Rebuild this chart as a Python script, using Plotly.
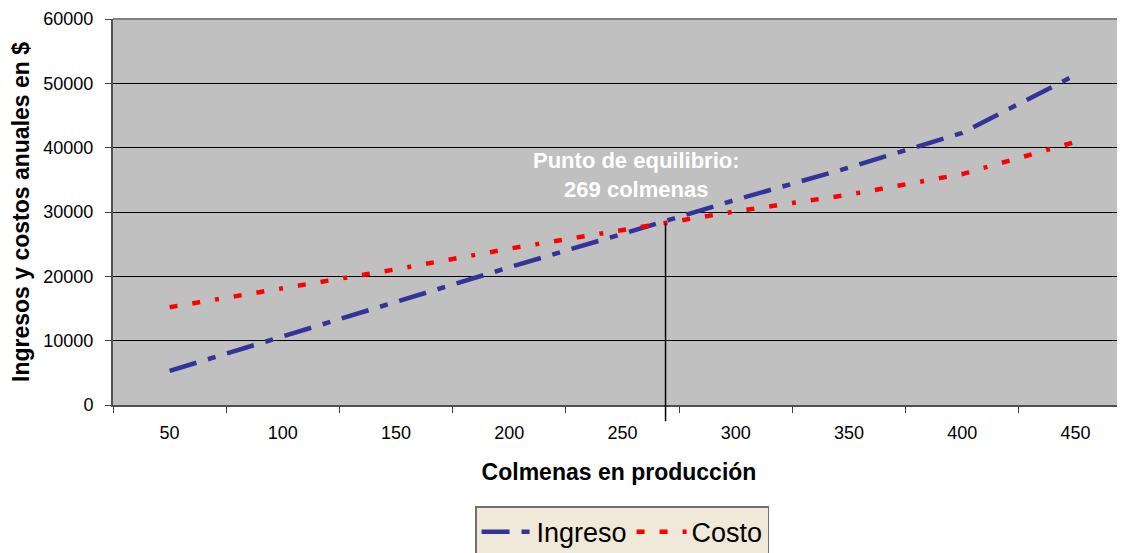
import plotly.graph_objects as go

colmenas = [50, 100, 150, 200, 250, 300, 350, 400, 450]
ingreso = [5300, 10700, 16100, 21400, 26600, 31900, 36900, 42300, 51300]
costo = [15200, 18200, 21100, 24300, 27200, 30100, 32700, 35900, 40900]
tick_labels = ["50", "100", "150", "200", "250", "300", "350", "400", "450"]
equilibrio_x = 269
equilibrio_y = 28300
y_max = 60000

font = "Liberation Sans, Arial, sans-serif"

fig = go.Figure()
fig.add_trace(go.Scatter(
    x=colmenas, y=ingreso, mode="lines", name="Ingreso",
    line=dict(color="#333399", width=4.5, dash="28px,12px,8px,12px"),
))
fig.add_trace(go.Scatter(
    x=colmenas, y=costo, mode="lines", name="Costo",
    line=dict(color="#FF0000", width=4.5, dash="8px,15px,8px,15px,4px,15px"),
))

# vertical marker line at break-even point (extends below axis)
fig.add_shape(type="line", xref="x", yref="paper",
              x0=equilibrio_x, x1=equilibrio_x,
              y0=-0.042, y1=equilibrio_y / y_max,
              line=dict(color="black", width=1.5), layer="above")
# top border of plot area
fig.add_shape(type="line", xref="paper", yref="paper", x0=0, x1=1, y0=1, y1=1,
              line=dict(color="#808080", width=2), layer="above")

fig.add_annotation(x=256, y=35800, xref="x", yref="y",
                   text="<b>Punto de equilibrio:<br>269 colmenas</b>",
                   showarrow=False, font=dict(family=font, size=22, color="white"),
                   align="center")

fig.update_layout(
    width=1117, height=545,
    margin=dict(l=105, r=0, t=11, b=148, autoexpand=False),
    paper_bgcolor="white", plot_bgcolor="#C0C0C0",
    font=dict(family=font, color="black"),
    showlegend=True,
    legend=dict(orientation="h", x=0.503, xanchor="center", y=-0.262, yanchor="top",
                bgcolor="#F0E8D8", bordercolor="#707070", borderwidth=1.5,
                font=dict(family=font, size=27, color="black"),
                itemwidth=50, tracegroupgap=0),
    xaxis=dict(
        range=[25, 471.9], tickmode="array", tickvals=colmenas, ticktext=tick_labels,
        ticks="outside", ticklen=10, tickcolor="rgba(0,0,0,0)",
        tickfont=dict(family=font, size=18, color="black"),
        showgrid=False, zeroline=False, automargin=False,
        showline=True, linecolor="#505050", linewidth=2,
        minor=dict(tick0=25, dtick=50, ticks="outside", ticklen=6, tickcolor="#404040",
                   tickwidth=1, showgrid=False),
        title=dict(text="<b>Colmenas en producción</b>", standoff=22,
                   font=dict(family=font, size=23, color="black")),
    ),
    yaxis=dict(
        range=[0, y_max], tickmode="linear", tick0=0, dtick=10000, tickformat="d",
        ticks="outside", ticklen=6, tickcolor="#404040", ticklabelstandoff=8,
        tickfont=dict(family=font, size=18, color="black"),
        showgrid=True, gridcolor="black", gridwidth=1, zeroline=False, automargin=False,
        showline=True, linecolor="#505050", linewidth=2,
        title=dict(text="<b>Ingresos y costos anuales en $</b>", standoff=10,
                   font=dict(family=font, size=23, color="black")),
    ),
)

fig.write_html("out.html")
